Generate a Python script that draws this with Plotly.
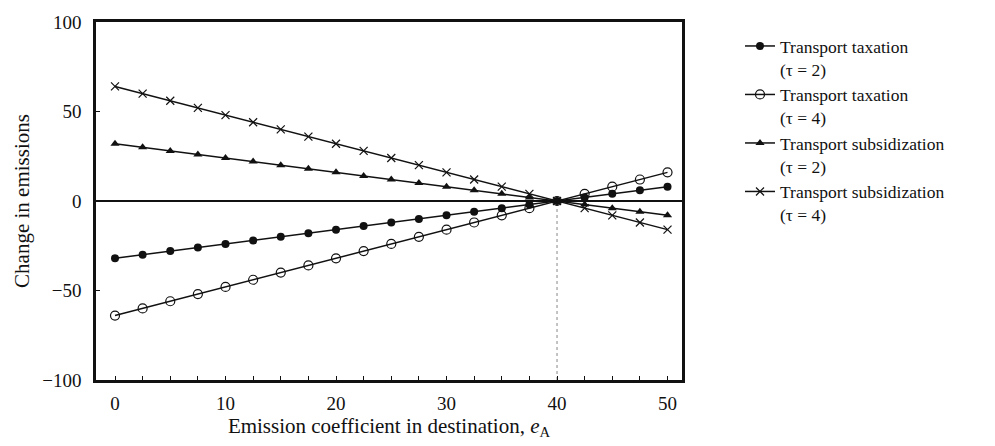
import plotly.graph_objects as go

# Emission coefficient in destination (x) and the change in emissions per scenario
e_A = [0, 2.5, 5, 7.5, 10, 12.5, 15, 17.5, 20, 22.5, 25, 27.5, 30, 32.5, 35, 37.5,
       40, 42.5, 45, 47.5, 50]
tax_tau2 = [-32, -30, -28, -26, -24, -22, -20, -18, -16, -14, -12, -10, -8, -6, -4, -2,
            0, 2, 4, 6, 8]
tax_tau4 = [-64, -60, -56, -52, -48, -44, -40, -36, -32, -28, -24, -20, -16, -12, -8, -4,
            0, 4, 8, 12, 16]
sub_tau2 = [32, 30, 28, 26, 24, 22, 20, 18, 16, 14, 12, 10, 8, 6, 4, 2,
            0, -2, -4, -6, -8]
sub_tau4 = [64, 60, 56, 52, 48, 44, 40, 36, 32, 28, 24, 20, 16, 12, 8, 4,
            0, -4, -8, -12, -16]

names = ["Transport taxation<br>(τ = 2)", "Transport taxation<br>(τ = 4)",
         "Transport subsidization<br>(τ = 2)", "Transport subsidization<br>(τ = 4)"]

x_tick_vals = [0, 10, 20, 30, 40, 50]
y_tick_vals = [-100, -50, 0, 50, 100]
y_tick_text = ["−100", "−50", "0", "50", "100"]
crossing_x = 40

FONT = "Liberation Serif, Times New Roman, serif"
INK = "#111111"

fig = go.Figure()

series = [
    (tax_tau2, dict(symbol="circle", size=8, color=INK, line=dict(width=0))),
    (tax_tau4, dict(symbol="circle-open", size=9, color=INK, line=dict(width=1.2, color=INK))),
    (sub_tau2, dict(symbol="triangle-up", size=8, color=INK, line=dict(width=0))),
    (sub_tau4, dict(symbol="x-thin", size=8, color=INK, line=dict(width=1.2, color=INK))),
]
for (vals, mk), name in zip(series, names):
    fig.add_trace(go.Scatter(
        x=e_A, y=vals, mode="lines+markers", name=name,
        line=dict(color=INK, width=1.5), marker=mk,
    ))

# zero reference line and the dotted drop line at the crossing point
fig.add_shape(type="line", xref="paper", yref="y", x0=0, x1=1, y0=0, y1=0,
              line=dict(color=INK, width=1.8), layer="below")
fig.add_shape(type="line", xref="x", yref="y", x0=crossing_x, x1=crossing_x,
              y0=-100, y1=0, line=dict(color="#888888", width=1, dash="dot"),
              layer="below")

fig.update_layout(
    width=995, height=446,
    margin=dict(l=96, r=313, t=18, b=54),
    paper_bgcolor="white", plot_bgcolor="white",
    font=dict(family=FONT, size=19, color=INK),
    showlegend=True,
    legend=dict(
        x=1.099, y=0.983, xanchor="left", yanchor="top",
        font=dict(family=FONT, size=17.5, color=INK),
        bgcolor="rgba(0,0,0,0)", valign="top", tracegroupgap=0,
    ),
    xaxis=dict(
        range=[-1.72, 51.31], tickvals=x_tick_vals, ticks="inside", ticklen=4,
        tickwidth=1, tickcolor=INK, ticklabelstandoff=4,
        minor=dict(dtick=2.5, tick0=0, ticks="inside", ticklen=4, tickwidth=1, tickcolor=INK),
        showgrid=False, zeroline=False, showline=True, linewidth=2.5, linecolor=INK,
        mirror=True,
        title=dict(text="Emission coefficient in destination, <i>e</i><sub>A</sub>",
                   font=dict(family=FONT, size=21), standoff=6),
        tickfont=dict(family=FONT, size=19),
    ),
    yaxis=dict(
        range=[-100, 100], tickvals=y_tick_vals, ticktext=y_tick_text,
        ticks="inside", ticklen=4, tickwidth=1, tickcolor=INK, ticklabelstandoff=8,
        showgrid=False, zeroline=False, showline=True, linewidth=2.5, linecolor=INK,
        mirror=True,
        title=dict(text="Change in emissions", font=dict(family=FONT, size=21), standoff=7),
        tickfont=dict(family=FONT, size=19),
    ),
)

fig.write_html("out.html")
